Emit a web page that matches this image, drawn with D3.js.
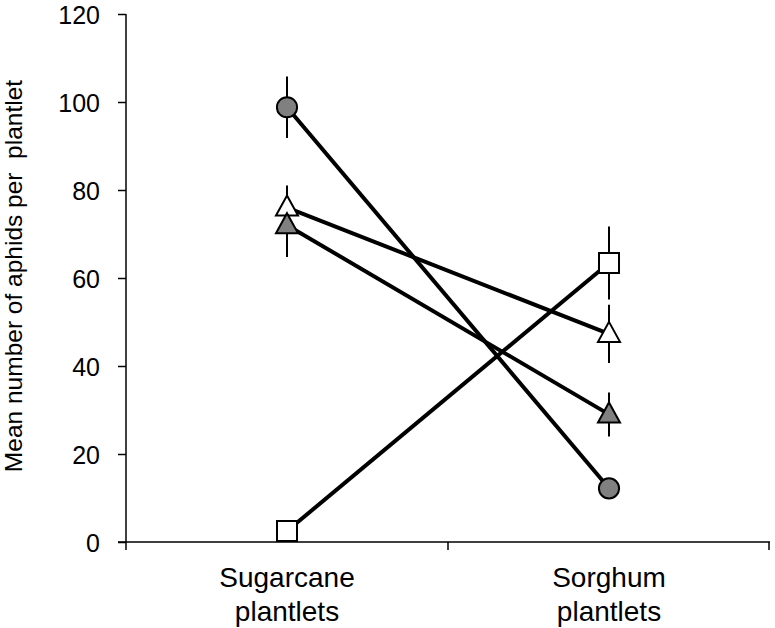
<!DOCTYPE html>
<html lang="en">
<head>
<meta charset="UTF-8">
<title>Aphids per plantlet</title>
<script src="https://d3js.org/d3.v7.min.js"></script>
<style>
    body { margin: 0; background: #fff; }
    text { font-family: "Liberation Sans", Arial, sans-serif; fill: #000; }
</style>
</head>
<body>
<script>
    // categories on the x axis
    const categories = ["Sugarcane plantlets", "Sorghum plantlets"];
    // series: mean and error per category
    const circleMeans = [98.8, 12.2];
    const circleErrs = [7, 0];
    const openTriMeans = [76, 47.3];
    const openTriErrs = [5, 6.6];
    const greyTriMeans = [72, 29];
    const greyTriErrs = [7.2, 5];
    const squareMeans = [2.5, 63.4];
    const squareErrs = [0, 8.3];
    const yTicks = [0, 20, 40, 60, 80, 100, 120];

    const series = [
        { name: "circle", shape: "circle", fill: "#808080", means: circleMeans, errs: circleErrs },
        { name: "openTri", shape: "triangle", fill: "#fff", means: openTriMeans, errs: openTriErrs },
        { name: "greyTri", shape: "triangle", fill: "#808080", means: greyTriMeans, errs: greyTriErrs },
        { name: "square", shape: "square", fill: "#fff", means: squareMeans, errs: squareErrs }
    ];

    const width = 775, height = 628;
    const margin = { left: 126, right: 5, top: 14, bottom: 86 };

    const svg = d3.select('body').append('svg')
        .attr('width', width)
        .attr('height', height);

    const x = d3.scaleBand()
        .domain(categories)
        .range([margin.left, width - margin.right]);

    const y = d3.scaleLinear()
        .domain([0, 120])
        .range([height - margin.bottom, margin.top]);

    // y axis
    const yAxis = svg.append('g')
        .attr('transform', `translate(${margin.left},0)`)
        .call(d3.axisLeft(y).tickValues(yTicks).tickSize(8).tickPadding(18));
    yAxis.select('.domain').attr('stroke-width', 1.5).attr('d', `M0,${y(120)}V${y(0)}`);
    yAxis.selectAll('.tick line').attr('stroke-width', 1.5);
    yAxis.selectAll('.tick text')
        .style('font-size', '25px')
        .style('font-family', '"Liberation Sans", Arial, sans-serif')
        .attr('dy', '0.36em');

    // x axis with ticks on band edges
    const xAxisG = svg.append('g');
    xAxisG.append('line')
        .attr('x1', margin.left - 8).attr('x2', x.range()[1])
        .attr('y1', y(0)).attr('y2', y(0))
        .attr('stroke', '#000').attr('stroke-width', 1.5);
    const edges = categories.map(c => x(c)).concat([x.range()[1] - 1]);
    xAxisG.selectAll('.xtick')
        .data(edges)
        .enter().append('line')
        .attr('x1', d => d).attr('x2', d => d)
        .attr('y1', y(0)).attr('y2', y(0) + 8)
        .attr('stroke', '#000').attr('stroke-width', 1.5);

    // category labels, two lines
    categories.forEach(c => {
        const words = c.split(' ');
        const t = svg.append('text')
            .attr('text-anchor', 'middle')
            .style('font-size', '28px');
        t.append('tspan')
            .attr('x', x(c) + x.bandwidth() / 2)
            .attr('y', y(0) + 45)
            .text(words[0]);
        t.append('tspan')
            .attr('x', x(c) + x.bandwidth() / 2)
            .attr('y', y(0) + 79)
            .text(words[1]);
    });

    // y axis title
    svg.append('text')
        .attr('transform', `translate(22,276) rotate(-90)`)
        .attr('text-anchor', 'middle')
        .style('font-size', '24.5px')
        .style('white-space', 'pre')
        .attr('xml:space', 'preserve')
        .text('Mean number of aphids per  plantlet');

    const cx = i => x(categories[i]) + x.bandwidth() / 2;

    // error bars
    series.forEach(s => {
        svg.append('g').selectAll('line')
            .data(s.means.map((m, i) => ({ m, e: s.errs[i], i })).filter(d => d.e > 0))
            .enter().append('line')
            .attr('x1', d => cx(d.i)).attr('x2', d => cx(d.i))
            .attr('y1', d => y(d.m - d.e)).attr('y2', d => y(d.m + d.e))
            .attr('stroke', '#000').attr('stroke-width', 2);
    });

    // connecting lines
    const line = d3.line()
        .x((d, i) => cx(i))
        .y(d => y(d));
    series.forEach(s => {
        svg.append('path')
            .datum(s.means)
            .attr('d', line)
            .attr('fill', 'none')
            .attr('stroke', '#000')
            .attr('stroke-width', 4);
    });

    // markers
    function markerPath(shape) {
        if (shape === 'triangle') return 'M0,-12L11,8L-11,8Z';
        if (shape === 'square') return 'M-10,-10H10V10H-10Z';
        return d3.symbol(d3.symbolCircle, 320)();
    }
    series.forEach(s => {
        svg.append('g').selectAll('path')
            .data(s.means)
            .enter().append('path')
            .attr('transform', (d, i) => `translate(${cx(i)},${y(d)})`)
            .attr('d', markerPath(s.shape))
            .attr('fill', s.fill)
            .attr('stroke', '#000')
            .attr('stroke-width', 2);
    });
</script>
</body>
</html>
